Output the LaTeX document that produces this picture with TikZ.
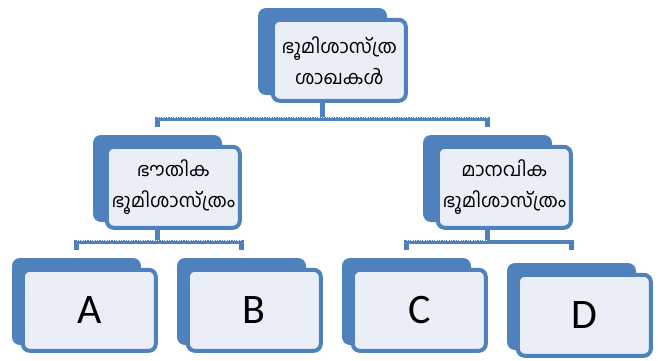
\documentclass[tikz,border=0pt]{standalone}
\usepackage{fontspec}
\setmainfont{Carlito}
\newfontfamily\malfont[Script=Malayalam]{Hind Kochi}
\usepackage{tikz}
\usetikzlibrary{positioning}
\definecolor{boxblue}{RGB}{79,129,189}
\definecolor{boxfill}{RGB}{234,239,247}
\tikzset{back box/.style={rectangle,rounded corners=8pt,fill=boxblue,minimum width=129pt,minimum height=87pt,inner sep=0pt},
  front box/.style={rectangle,rounded corners=7pt,draw=boxblue,line width=4pt,fill=boxfill,minimum width=133pt,minimum height=81pt,inner sep=0pt,align=center,font=\malfont\fontsize{19}{31}\selectfont},
  letter box/.style={front box,font=\fontsize{42}{48}\selectfont},
  link/.style={draw=boxblue,line width=4.5pt},
  hatch/.style={draw=white,line width=1pt,dash pattern=on 1.2pt off 1.2pt},}

\begin{document}
\begin{tikzpicture}[x=1pt,y=1pt]
		\useasboundingbox (0,0) rectangle (664,360);
		\node[back box] (rootback) at (322.5,308.5) {};
		\node[back box] (physback) at (157.5,181.5) {};
		\node[back box] (humback) at (487.5,181.5) {};
		\node[back box] (aback) at (76.5,58.5) {};
		\node[back box] (bback) at (241.5,58.5) {};
		\node[back box] (cback) at (406.5,58.5) {};
		\node[back box] (dback) at (571.5,53.5) {};
	
		\draw[link] (rootback.south) -- ++(0,-24);
		\draw[link] ([yshift=8pt]physback.north) -- ++(0,8) -| ([yshift=8pt]humback.north);
		\draw[hatch] ([yshift=17.5pt]physback.north) -- ([yshift=17.5pt]humback.north);
		\draw[link] (physback.south) -- ++(0,-20);
		\draw[link] ([yshift=8pt]aback.north) -- ++(0,8) -| ([yshift=8pt]bback.north);
		\draw[hatch] ([yshift=17.5pt]aback.north) -- ([yshift=17.5pt]bback.north);
		\draw[link] (humback.south) -- ++(0,-20);
		\draw[link] ([yshift=8pt]cback.north) -- ++(0,8) -| ([yshift=8pt]cback.north -| dback.north);
		\draw[hatch] ([yshift=17.5pt]cback.north) -- ([yshift=17.5pt]cback.north -| humback.south);
	
		\node[front box] (root) [below right=10pt and 13pt of rootback.north west] {ഭൂമിശാസ്ത്ര\\ശാഖകൾ};
		\node[front box] (phys) [below right=10pt and 12pt of physback.north west] {ഭൗതിക\\ഭൂമിശാസ്ത്രം};
		\node[front box] (hum) [below right=10pt and 13pt of humback.north west] {മാനവിക\\ഭൂമിശാസ്ത്രം};
		\node[letter box] (a) [below right=10pt and 9pt of aback.north west] {A};
		\node[letter box] (b) [below right=10pt and 9pt of bback.north west] {B};
		\node[letter box] (c) [below right=10pt and 9pt of cback.north west] {C};
		\node[letter box] (d) [below right=10pt and 9pt of dback.north west] {D};
	\end{tikzpicture}
\end{document}
